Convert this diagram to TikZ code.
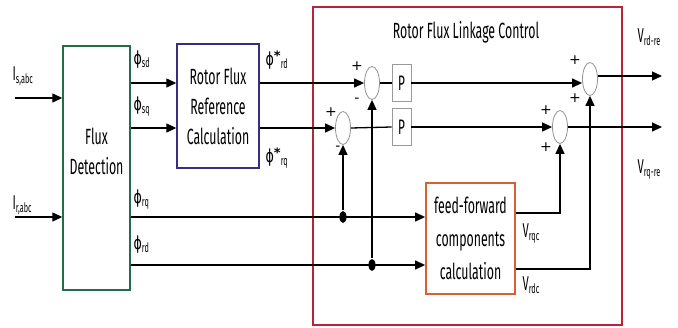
\documentclass[tikz,border=0pt]{standalone}
\usepackage{fontspec}
\setmainfont{Fira Sans}[FakeStretch=0.56]
\newfontfamily\phifont{DejaVu Sans}[FakeStretch=0.7]
\newfontfamily\signfont{DejaVu Sans}
\usetikzlibrary{arrows.meta,shapes.geometric}
\definecolor{cgreen}{RGB}{35,110,70}
\definecolor{cblue}{RGB}{55,45,130}
\definecolor{cred}{RGB}{185,35,55}
\definecolor{corange}{RGB}{215,95,50}
\newcommand{\sbs}[1]{\raisebox{-3pt}{\fontsize{13}{13}\selectfont #1}}
\newcommand{\phis}[1]{{\phifont\fontsize{18}{18}\selectfont ϕ}\sbs{#1}}
\newcommand{\phist}[1]{{\phifont\fontsize{18}{18}\selectfont ϕ}\raisebox{5pt}{\signfont\fontsize{13}{13}\selectfont\bfseries *}\sbs{#1}}
\newcommand{\cur}[2]{{\fontsize{20}{20}\selectfont #1}\sbs{#2}}
\begin{document}
\begin{tikzpicture}[x=1pt,y=-1pt,line width=1.3pt,
  >={Triangle[length=10pt,width=9pt]},
  txt/.style={font=\fontsize{22}{30}\selectfont, align=center, inner sep=0pt},
  lbl/.style={anchor=west, inner sep=0pt},
  sumc/.style={draw=gray!85, line width=0.8pt, ellipse, minimum width=15pt, minimum height=33pt, inner sep=0pt},
  pbox/.style={draw=gray!80, line width=0.8pt, minimum width=19pt, minimum height=37pt, inner sep=0pt, font=\fontsize{21}{21}\selectfont},
  dot/.style={fill=black, ellipse, minimum width=7pt, minimum height=12pt, inner sep=0pt},
  sgn/.style={inner sep=0pt, font=\signfont\fontsize{14}{14}\selectfont}]
\useasboundingbox (0,0) rectangle (678,327);
% boxes
\node[draw=cred, line width=1.4pt, minimum width=309pt, minimum height=318pt] (rflc) at (467.5,166) {};
\node[txt] (title) at (466,32) {Rotor Flux Linkage Control};
\node[draw=cgreen, line width=1.4pt, minimum width=67pt, minimum height=244pt] (fd) at (96.5,168) {};
\node[txt] (fdt) at (96.5,151) {Flux\\Detection};
\node[txt, draw=cblue, line width=1.4pt, minimum width=82pt, minimum height=124pt] (rfr) at (218,106) {Rotor Flux\\Reference\\Calculation};
\node[txt, draw=corange, line width=1.8pt, minimum width=89pt, minimum height=111pt, font=\fontsize{22}{33}\selectfont] (ff) at (470.5,238.5) {feed-forward\\components\\calculation};
% summing junctions and P blocks
\node[sumc] (s1) at (372,83) {};
\node[sumc] (s2) at (343,128) {};
\node[sumc] (s3) at (590,79) {};
\node[sumc] (s4) at (560,127) {};
\node[pbox] (p1) at (401.5,83) {P};
\node[pbox] (p2) at (401.5,127) {P};
\node[dot] (d1) at (343,217) {};
\node[dot] (d2) at (372,265) {};
% coordinates
\coordinate (isin) at (15,98);
\coordinate (irin) at (15,217);
\coordinate (r1) at (0,83);
\coordinate (r2) at (0,128);
\coordinate (r3) at (0,217);
\coordinate (r4) at (0,265);
\coordinate (c1) at (0,213);
\coordinate (c2) at (0,269);
\coordinate (o1) at (662,76);
\coordinate (o2) at (662,127);
% connectors
\draw[->] (isin) -- (isin -| fd.west);
\draw[->] (irin) -- (irin -| fd.west);
\draw[->] (fd.east |- r1) -- (rfr.west |- r1);
\draw[->] (fd.east |- r2) -- (rfr.west |- r2);
\draw[->] (rfr.east |- r1) -- (s1.west);
\draw[->] (rfr.east |- r2) -- (s2.west);
\draw (s1.east) -- (p1.west);
\draw (s2.east) -- (p2.west);
\draw[->] (p1.east) -- (p1.east -| s3.west);
\draw[->] (p2.east) -- (s4.west);
\draw[->] (s3.east |- o1) -- (o1);
\draw[->] (s4.east) -- (o2);
\draw[->] (fd.east |- r3) -- (ff.west |- r3);
\draw[->] (fd.east |- r4) -- (ff.west |- r4);
\draw[->] (d1) -- (s2.south);
\draw[->] (d2) -- (s1.south);
\draw[->] (ff.east |- c1) -| (s4.south);
\draw[->] (ff.east |- c2) -| (s3.south);
% signs
\node[sgn] (s1a) at (357,66) {+};
\node[sgn] (s1b) at (357,100) {-};
\node[sgn] (s2a) at (331,112) {+};
\node[sgn] (s2b) at (338,148) {-};
\node[sgn] (s3a) at (575,60) {+};
\node[sgn] (s3b) at (575,98) {+};
\node[sgn] (s4a) at (546,110) {+};
\node[sgn] (s4b) at (546,147) {+};
% labels
\node[lbl] (lis) at (12,76) {\cur{I}{s,abc}};
\node[lbl] (lir) at (12,205) {\cur{I}{r,abc}};
\node[lbl] (lsd) at (133,60) {\phis{sd}};
\node[lbl] (lsq) at (133,107) {\phis{sq}};
\node[lbl] (lrq) at (133,200) {\phis{rq}};
\node[lbl] (lrd) at (133,245) {\phis{rd}};
\node[lbl] (lsrd) at (265,60) {\phist{rd}};
\node[lbl] (lsrq) at (265,158) {\phist{rq}};
\node[lbl] (lvrqc) at (522,233) {\cur{V}{rqc}};
\node[lbl] (lvrdc) at (522,285) {\cur{V}{rdc}};
\node[lbl] (lvrd) at (637,37) {\cur{V}{rd-re}};
\node[lbl] (lvrq) at (637,169) {\cur{V}{rq-re}};
\end{tikzpicture}
\end{document}
